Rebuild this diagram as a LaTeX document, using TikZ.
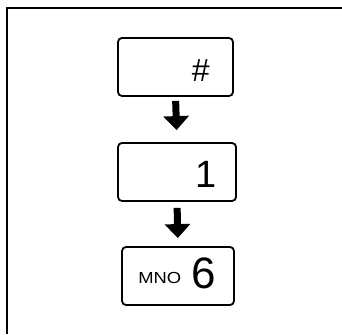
\documentclass[tikz,border=0pt]{standalone}
\usepackage{fontspec}
\usepackage{graphicx}
\setmainfont{Liberation Sans}
\usetikzlibrary{arrows.meta,positioning}

\begin{document}
\begin{tikzpicture}[
  x=1pt,y=1pt,
  key/.style={draw,line width=1.8pt,rounded corners=4pt,minimum height=58pt,inner sep=0pt},
  keytext/.style={anchor=east,inner sep=0pt},
  fat/.style={-{Triangle[width=25pt,length=14pt]},line width=7pt}
]
  \useasboundingbox (0,0) rectangle (342,334);
  % frame
  \draw[line width=1.6pt] (342,326) -- (7,326) -- (7,0);

  \node[key,minimum width=115pt] (hash) at (175.5,267) {};
  \node[key,minimum width=118pt] (one) at (177,162) {};
  \node[key,minimum width=112pt] (six) at (178,58) {};

  \node[keytext,font=\fontsize{32}{32}\selectfont] (hashlbl) at ([xshift=-24pt,yshift=-4pt]hash.east) {\#};
  \node[keytext,font=\fontsize{38}{38}\selectfont] (onelbl) at ([xshift=-20pt,yshift=-2.5pt]one.east) {1};
  \node[keytext] (sixlbl) at ([xshift=-19pt,yshift=3pt]six.east)
    {\raisebox{5pt}{\scalebox{1.15}[1]{\fontsize{16}{16}\selectfont MNO}}\hspace{10pt}{\fontsize{44}{44}\selectfont 6}};

  \draw[fat,shorten <=4pt,shorten >=12pt] (hash.south) -- (one.north);
  \draw[fat,shorten <=6pt,shorten >=8pt] (one.south) -- (six.north);
\end{tikzpicture}
\end{document}
